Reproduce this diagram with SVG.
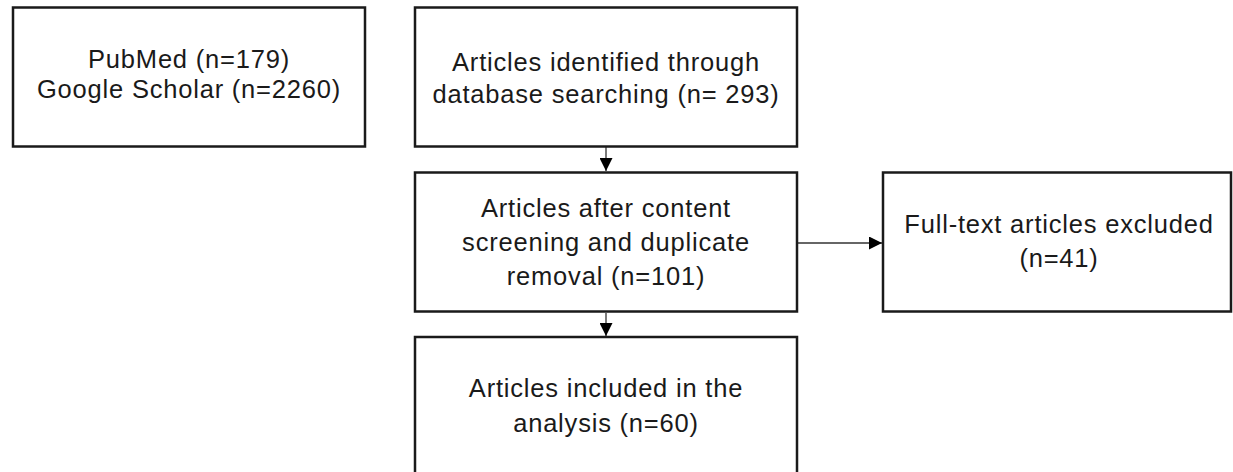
<svg xmlns="http://www.w3.org/2000/svg" width="1233" height="472" viewBox="0 0 1233 472">
<defs>
<style>
.box{fill:#fff;stroke:#1a1a1a;stroke-width:2.5}
.t{font-family:"Liberation Sans",Arial,sans-serif;font-size:25.5px;letter-spacing:0.8px;fill:#1a1a1a;text-anchor:middle}
.c{stroke:#333;stroke-width:1.3;fill:none}
</style>
<marker id="ahh" viewBox="0 0 10 10" refX="10" refY="5" markerWidth="13" markerHeight="13" markerUnits="userSpaceOnUse" orient="auto">
<path d="M0,0 L10,5 L0,10 z" fill="#000"/>
</marker>
</defs>
<rect width="1233" height="472" fill="#fff"/>
<g id="connectors">
<line class="c" x1="606" y1="147" x2="606" y2="171" marker-end="url(#ahh)"/>
<line class="c" x1="606" y1="313" x2="606" y2="336" marker-end="url(#ahh)"/>
<line class="c" x1="798" y1="243" x2="882" y2="243" marker-end="url(#ahh)"/>
</g>
<g id="sources">
<rect class="box" x="13" y="7.5" width="352" height="139"/>
<text class="t" x="189" y="67.5">PubMed (n=179)</text>
<text class="t" x="189" y="98">Google Scholar (n=2260)</text>
</g>
<g id="identified">
<rect class="box" x="415" y="7.5" width="382" height="139"/>
<text class="t" x="606" y="71">Articles identified through</text>
<text class="t" x="606" y="103">database searching (n= 293)</text>
</g>
<g id="screened">
<rect class="box" x="415" y="172.5" width="382" height="139"/>
<text class="t" x="606" y="217">Articles after content</text>
<text class="t" x="606" y="251">screening and duplicate</text>
<text class="t" x="606" y="285">removal (n=101)</text>
</g>
<g id="excluded">
<rect class="box" x="883" y="172.5" width="348" height="139"/>
<text class="t" x="1059" y="233">Full-text articles excluded</text>
<text class="t" x="1059" y="267">(n=41)</text>
</g>
<g id="included">
<rect class="box" x="415" y="337" width="382" height="140"/>
<text class="t" x="606" y="397">Articles included in the</text>
<text class="t" x="606" y="432">analysis (n=60)</text>
</g>
</svg>
